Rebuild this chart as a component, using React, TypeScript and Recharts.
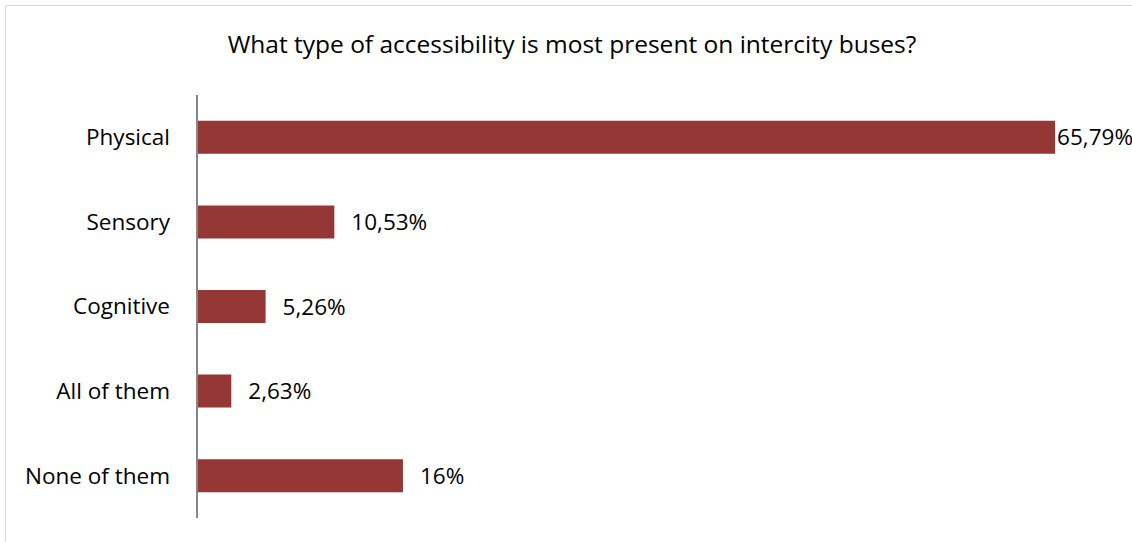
import React from 'react';
import { BarChart, Bar, XAxis, YAxis, LabelList } from 'recharts';

const categories = ['Physical', 'Sensory', 'Cognitive', 'All of them', 'None of them'];
const shares = [65.79, 10.53, 5.26, 2.63, 15.79];
const shareLabels = ['65,79%', '10,53%', '5,26%', '2,63%', '16%'];
const axisMax = 70;

const data = categories.map((name, i) => ({ name, value: shares[i], label: shareLabels[i] }));

const FONT = '"Open Sans", Lato, sans-serif';
const W = 1132;
const H = 542;

// value label to the right of the bar; pulled back inside the frame if it would overflow
const ValueLabel = (props: any) => {
  const { x, y, width, height, value } = props;
  const end = x + width + 17;
  const overflow = end + 80 > W - 2;
  return (
    <text
      x={overflow ? W + 1 : end}
      y={y + height / 2}
      dy={8}
      textAnchor={overflow ? 'end' : 'start'}
      fontFamily={FONT}
      fontSize={22.5}
      fill="#000"
    >
      {value}
    </text>
  );
};

const App: React.FC = () => {
  return (
    <div style={{ position: 'absolute', left: 0, top: 0, width: W, height: H, overflow: 'hidden', background: '#fff' }}>
      {/* chart frame */}
      <div style={{ position: 'absolute', left: 5, top: 5, width: W + 20, height: H + 20, border: '1px solid #d9d9d9' }} />
      <div
        style={{
          position: 'absolute', left: 0, top: 27, width: 1144, textAlign: 'center',
          fontFamily: FONT, fontSize: 24.5, color: '#000'
        }}
      >
        What type of accessibility is most present on intercity buses?
      </div>
      <div style={{ position: 'absolute', left: 0, top: 0 }}>
        <BarChart
          width={W}
          height={H}
          data={data}
          layout="vertical"
          margin={{ top: 95, right: W - 197 - 913, bottom: 24, left: 0 }}
          barCategoryGap="30.5%"
        >
          <XAxis type="number" domain={[0, axisMax]} hide />
          <YAxis
            type="category"
            dataKey="name"
            width={197}
            axisLine={{ stroke: '#868686', strokeWidth: 2 }}
            tickLine={false}
            tickMargin={21}
            tick={{ fill: '#000', fontSize: 22.5, fontFamily: FONT }}
          />
          <Bar dataKey="value" fill="#953735" isAnimationActive={false}>
            <LabelList dataKey="label" content={<ValueLabel />} />
          </Bar>
        </BarChart>
      </div>
    </div>
  );
};

export default App;
